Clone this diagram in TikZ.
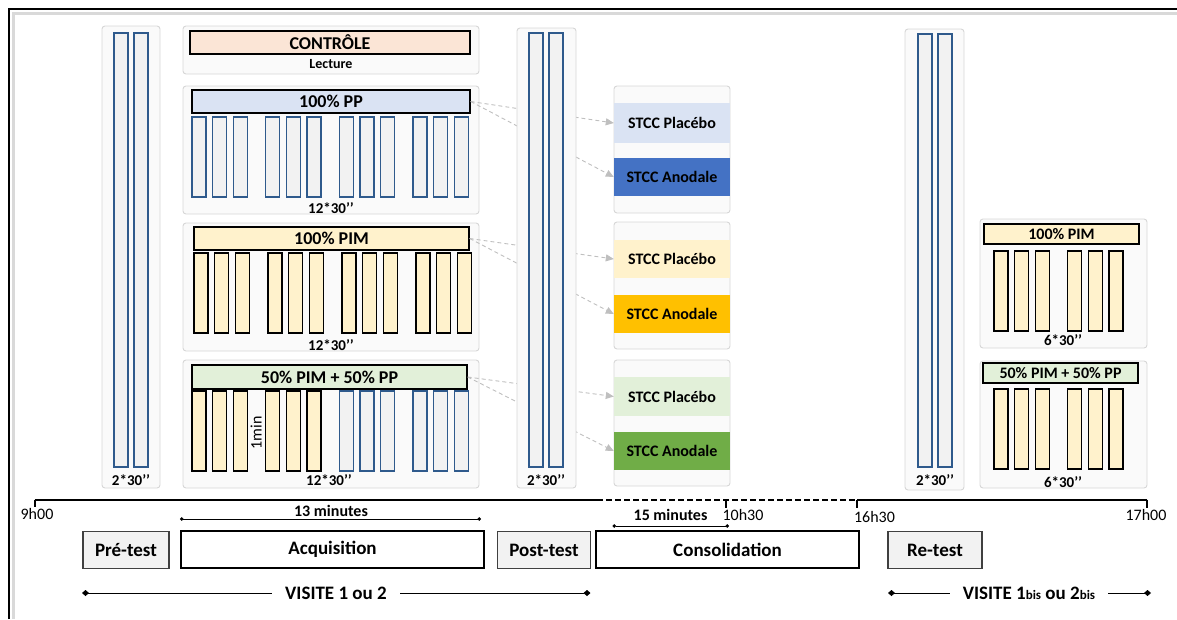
\documentclass[tikz,border=0pt]{standalone}
\usepackage{fontspec}
\setmainfont{Carlito}
\usepackage{xcolor}
\usepackage{tikz}
\usetikzlibrary{arrows.meta,positioning,calc}
\definecolor{panelfill}{HTML}{FAFAFA}
\definecolor{paneldraw}{HTML}{D6D6D6}
\definecolor{barblue}{HTML}{2F5A8C}
\definecolor{barfill}{HTML}{F2F2F2}
\definecolor{peach}{HTML}{FBE5D6}
\definecolor{ppblue}{HTML}{DAE3F3}
\definecolor{pimcream}{HTML}{FFF2CC}
\definecolor{mixgreen}{HTML}{E2F0D9}
\definecolor{anoblue}{HTML}{4472C4}
\definecolor{anogold}{HTML}{FFC000}
\definecolor{anogreen}{HTML}{70AD47}
\definecolor{flowgray}{HTML}{BFBFBF}
\tikzset{
  protpanel/.style   = {rectangle, rounded corners=3pt, draw=paneldraw, fill=panelfill,
                        line width=0.9pt, inner sep=0pt},
  prothead/.style    = {rectangle, draw=black, line width=1.4pt, inner sep=0pt,
                        font=\fontsize{18}{20}\selectfont\bfseries},
  protband/.style    = {rectangle, inner sep=0pt, minimum width=116pt,
                        font=\fontsize{16}{18}\selectfont\bfseries},
  protbarblue/.style = {draw=barblue, fill=barfill, line width=1.3pt},
  protbaryel/.style  = {draw=black, fill=pimcream, line width=1.3pt},
  protlbl/.style     = {inner sep=0pt, font=\fontsize{15}{17}\selectfont\bfseries},
  prothour/.style    = {inner sep=0pt, font=\fontsize{16}{18}\selectfont},
  protstepbox/.style = {rectangle, line width=1.2pt, inner sep=0pt, minimum height=37pt,
                        font=\fontsize{19}{21}\selectfont\bfseries},
  protflow/.style    = {-{Triangle[length=8pt,width=7pt]}, draw=flowgray, line width=0.9pt,
                        dash pattern=on 4pt off 3pt},
  protspan/.style    = {{Circle[length=3.5pt]}-{Circle[length=3.5pt]}, line width=0.8pt},
  protvisit/.style   = {{Diamond[length=7pt,width=6pt]}-{Diamond[length=7pt,width=6pt]},
                        line width=0.8pt},
  prottime/.style    = {line width=2pt},
}

\begin{document}
\begin{tikzpicture}[x=1pt,y=-1pt]
  \useasboundingbox (0,0) rectangle (1177,619);
  % frame
  \draw[black!15, line width=3pt] (13,619) -- (13,13) -- (1177,13);
  \draw[line width=2.2pt] (9,619) -- (9,9) -- (1177,9);

  % pre-test
  \node[protpanel, minimum width=58pt, minimum height=462pt] (prepanel) at (131,257) {};
  \draw[protbarblue] (114,33) rectangle (128,467);
  \draw[protbarblue] (134,33) rectangle (148,467);
  \node[protlbl] (prelbl) at (131,480) {2*30’’};

  % acquisition
  \node[protpanel, minimum width=296pt, minimum height=48pt] (ctrl) at (331,50) {};
  \node[prothead, fill=peach, minimum width=280pt, minimum height=23pt] (ctrlhead) at (330,42.5) {CONTRÔLE};
  \node[protlbl, font=\fontsize{14}{16}\selectfont\bfseries] (ctrllbl) at (331,64) {Lecture};

  \node[protpanel, minimum width=296pt, minimum height=128pt] (pp) at (331,150) {};
  \node[prothead, fill=ppblue, minimum width=278pt, minimum height=23pt] (pphead) at (331,101.5) {100\% PP};
  \foreach \g in {0,...,3} \foreach \i in {0,1,2}
    \draw[protbarblue] ({192+73.7*\g+20.6*\i},117) rectangle ++(14,80);
  \node[protlbl] (pplbl) at (331,208) {12*30’’};

  \node[protpanel, minimum width=296pt, minimum height=128pt] (pim) at (331,287) {};
  \node[prothead, fill=pimcream, minimum width=275pt, minimum height=23pt] (pimhead) at (331.5,238.5) {100\% PIM};
  \foreach \g in {0,...,3} \foreach \i in {0,1,2}
    \draw[protbaryel] ({194+74*\g+20.6*\i},253) rectangle ++(14,80);
  \node[protlbl] (pimlbl) at (331,345) {12*30’’};

  \node[protpanel, minimum width=296pt, minimum height=128pt] (mix) at (331,424) {};
  \node[prothead, fill=mixgreen, minimum width=275pt, minimum height=24pt] (mixhead) at (329.5,377) {50\% PIM + 50\% PP};
  \foreach \g/\sty in {0/protbaryel,1/protbaryel,2/protbarblue,3/protbarblue} \foreach \i in {0,1,2}
    \draw[\sty] ({192+73.7*\g+20.6*\i},391) rectangle ++(14,80);
  \node[prothour, rotate=90] (minlbl) at (256,433) {1min};
  \node[protlbl] (mixlbl) at (329,480) {12*30’’};

  % stimulation
  \node[protpanel, minimum width=116pt, minimum height=127pt] (stccA) at (672,149.5) {};
  \node[protband, fill=ppblue, minimum height=40pt] (plA) at (672,123) {STCC Placébo};
  \node[protband, fill=anoblue, minimum height=38pt] (anA) at (672,177) {STCC Anodale};
  \node[protpanel, minimum width=116pt, minimum height=127pt] (stccB) at (672,285.5) {};
  \node[protband, fill=pimcream, minimum height=38pt] (plB) at (672,259) {STCC Placébo};
  \node[protband, fill=anogold, minimum height=38pt] (anB) at (672,314) {STCC Anodale};
  \node[protpanel, minimum width=116pt, minimum height=126pt] (stccC) at (672,423) {};
  \node[protband, fill=mixgreen, minimum height=39pt] (plC) at (672,396.5) {STCC Placébo};
  \node[protband, fill=anogreen, minimum height=38pt] (anC) at (672,451) {STCC Anodale};

  \draw[protflow] (pphead.east) -- (plA.west);
  \draw[protflow] (pphead.east) -- (anA.west);
  \draw[protflow] (pimhead.east) -- (plB.west);
  \draw[protflow] (pimhead.east) -- (anB.west);
  \draw[protflow] (mixhead.east) -- (plC.west);
  \draw[protflow] (mixhead.east) -- (anC.west);

  % post-test
  \node[protpanel, minimum width=59pt, minimum height=460pt] (postpanel) at (546.5,258) {};
  \draw[protbarblue] (529,33) rectangle (543,467);
  \draw[protbarblue] (549,33) rectangle (563,467);
  \node[protlbl] (postlbl) at (546,480) {2*30’’};

  % re-test
  \node[protpanel, minimum width=59pt, minimum height=461pt] (repanel) at (934.5,259.5) {};
  \draw[protbarblue] (918,34) rectangle (932,467);
  \draw[protbarblue] (938,34) rectangle (952,467);
  \node[protlbl] (relbl) at (935,480) {2*30’’};

  \node[protpanel, minimum width=167pt, minimum height=129pt] (rpim) at (1063.5,283.5) {};
  \node[prothead, fill=pimcream, minimum width=155pt, minimum height=20pt,
        font=\fontsize{16}{18}\selectfont\bfseries] (rpimhead) at (1061.5,234) {100\% PIM};
  \foreach \g in {0,1} \foreach \i in {0,1,2}
    \draw[protbaryel] ({994+73.5*\g+20.8*\i},251) rectangle ++(14,80);
  \node[protlbl] (rpimlbl) at (1063,340) {6*30’’};

  \node[protpanel, minimum width=167pt, minimum height=127pt] (rmix) at (1063.5,424.5) {};
  \node[prothead, fill=mixgreen, minimum width=155pt, minimum height=20pt,
        font=\fontsize{16}{18}\selectfont\bfseries] (rmixhead) at (1060.5,373) {50\% PIM + 50\% PP};
  \foreach \g in {0,1} \foreach \i in {0,1,2}
    \draw[protbaryel] ({994+73.5*\g+20.8*\i},389) rectangle ++(14,80);
  \node[protlbl] (rmixlbl) at (1063,482) {6*30’’};

  % time line
  \coordinate (t900)  at (34.5,499.5);
  \coordinate (tcut)  at (597,499.5);
  \coordinate (t1030) at (725.5,499.5);
  \coordinate (t1630) at (857,499.5);
  \coordinate (t1700) at (1147,499.5);
  \draw[prottime] (t900) -- (tcut);
  \draw[prottime, dash pattern=on 6pt off 3pt] (tcut) -- (t1630);
  \draw[prottime] (t1630) -- (t1700);
  \draw[prottime] (t900) -- ++(0,7);
  \draw[prottime] (t1030) -- ++(0,8);
  \draw[prottime] (t1630) -- ++(0,8);
  \draw[prottime] (t1700) -- ++(0,8);
  \node[prothour] (h900)  at (37,514)    {9h00};
  \node[prothour] (h1030) at (743,515)   {10h30};
  \node[prothour] (h1630) at (874.5,517) {16h30};
  \node[prothour] (h1700) at (1146,515)  {17h00};

  \coordinate (acqa) at (180,519);
  \coordinate (acqb) at (481,519);
  \draw[protspan] (acqa) -- (acqb);
  \node[protlbl, font=\fontsize{16}{18}\selectfont\bfseries] (acqdur) at (331,510.5) {13 minutes};
  \coordinate (consa) at (612.5,526);
  \coordinate (consb) at (729,526);
  \draw[protspan] (consa) -- (consb);
  \node[protlbl, font=\fontsize{16}{18}\selectfont\bfseries] (consdur) at (670.5,515) {15 minutes};

  \node[protstepbox, draw=black!75, fill=barfill, minimum width=86pt]  (pretest)  at (126,550)   {Pré-test};
  \node[protstepbox, draw=black, line width=1.4pt, fill=white, minimum width=303pt] (acq) at (332.5,549.5) {Acquisition};
  \node[protstepbox, draw=black!75, fill=barfill, minimum width=93pt]  (posttest) at (544,550)   {Post-test};
  \node[protstepbox, draw=black, line width=1.4pt, fill=white, minimum width=263pt] (cons) at (727.5,549.5) {Consolidation};
  \node[protstepbox, draw=black!75, fill=barfill, minimum width=94pt]  (retest)   at (935,550)   {Re-test};

  \coordinate (vonea) at (82,593);
  \coordinate (voneb) at (590.5,593);
  \draw[protvisit] (vonea) -- (voneb);
  \node[protstepbox, minimum height=0pt, fill=white, inner xsep=13pt, inner ysep=2pt] (visone) at (336,593) {VISITE 1 ou 2};
  \coordinate (vbisa) at (888,593);
  \coordinate (vbisb) at (1151,593);
  \draw[protvisit] (vbisa) -- (vbisb);
  \node[protstepbox, minimum height=0pt, fill=white, inner xsep=13pt, inner ysep=2pt] (visbis) at (1029,593)
       {VISITE 1{\fontsize{13}{14}\selectfont bis} ou 2{\fontsize{13}{14}\selectfont bis}};
\end{tikzpicture}
\end{document}
